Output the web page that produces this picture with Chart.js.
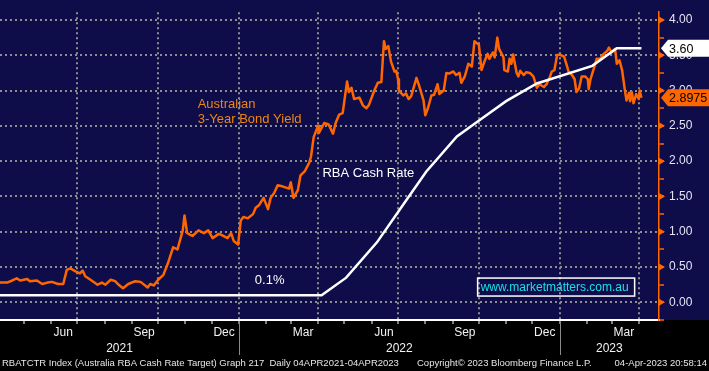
<!DOCTYPE html>
<html>
<head>
<meta charset="utf-8">
<script src="https://cdn.jsdelivr.net/npm/chart.js@4.4.0/dist/chart.umd.min.js"></script>
<style>
  html, body { margin: 0; padding: 0; background: #000; }
  canvas { display: block; }
</style>
</head>
<body>
<canvas id="bond-chart" width="709" height="371"></canvas>
<script>
// x values are days counted from the first date of the graph (04 Apr 2021)
const startDate = '2021-04-04';
const lastDay = 750;

// Australian 3-year bond yield
const bondDays = [0, 8, 14, 19, 23, 31, 34, 42, 48, 54, 59, 66, 72, 76, 80, 86, 91, 94, 97, 103,
  111, 116, 120, 126, 131, 135, 140, 146, 154, 160, 168, 171, 175, 180, 186, 191, 197, 202, 208, 210,
  213, 219, 226, 232, 237, 242, 249, 253, 259, 263, 266, 271, 274, 277, 282, 288, 291, 295, 300, 305,
  308, 312, 316, 322, 329, 331, 334, 339, 342, 347, 352, 354, 357, 362, 363, 369, 374, 379, 382, 386,
  390, 395, 397, 400, 403, 409, 413, 417, 420, 426, 430, 434, 437, 439, 442, 445, 449, 451, 453, 454,
  459, 462, 465, 468, 474, 477, 482, 484, 487, 491, 494, 498, 500, 505, 508, 511, 516, 519, 523, 525,
  529, 533, 537, 540, 545, 548, 551, 555, 557, 561, 563, 566, 568, 573, 574, 578, 580, 582, 584, 588,
  590, 592, 596, 599, 603, 607, 611, 614, 619, 622, 626, 628, 631, 634, 637, 642, 645, 647, 651, 654,
  656, 659, 662, 666, 669, 670, 672, 677, 679, 683, 687, 691, 693, 696, 700, 702, 705, 708, 711, 713,
  716, 717, 719, 721, 724, 727, 728, 730];
const bondYield = [0.28, 0.28, 0.31, 0.34, 0.31, 0.33, 0.30, 0.31, 0.26, 0.28, 0.29, 0.26, 0.26, 0.46, 0.48, 0.44, 0.41, 0.45, 0.37, 0.32,
  0.25, 0.28, 0.25, 0.32, 0.30, 0.25, 0.20, 0.26, 0.30, 0.29, 0.21, 0.26, 0.24, 0.32, 0.39, 0.55, 0.78, 0.75, 1.02, 1.23,
  0.98, 0.94, 1.02, 0.98, 1.02, 0.91, 0.97, 0.95, 0.91, 0.98, 0.87, 0.82, 1.16, 1.21, 1.19, 1.25, 1.34, 1.38, 1.48, 1.32,
  1.48, 1.55, 1.66, 1.64, 1.61, 1.70, 1.48, 1.59, 1.80, 1.86, 1.98, 2.07, 2.34, 2.50, 2.40, 2.54, 2.52, 2.39, 2.54, 2.66,
  2.68, 3.13, 2.98, 3.04, 2.88, 2.90, 2.79, 2.75, 2.80, 3.00, 3.11, 3.12, 3.70, 3.59, 3.63, 3.41, 3.27, 3.28, 3.16, 3.00,
  2.93, 2.96, 2.88, 2.92, 3.18, 3.07, 2.86, 2.65, 2.75, 2.93, 2.94, 3.09, 2.95, 3.00, 3.25, 3.24, 3.27, 3.22, 3.25, 3.11,
  3.20, 3.38, 3.34, 3.70, 3.65, 3.29, 3.40, 3.52, 3.45, 3.54, 3.47, 3.75, 3.59, 3.47, 3.29, 3.27, 3.45, 3.38, 3.51, 3.25,
  3.20, 3.28, 3.22, 3.26, 3.25, 3.20, 3.04, 3.09, 3.05, 3.09, 3.20, 3.27, 3.29, 3.50, 3.51, 3.48, 3.36, 3.27, 3.22, 3.16,
  2.98, 3.03, 3.20, 3.20, 3.16, 3.02, 3.16, 3.36, 3.45, 3.45, 3.52, 3.56, 3.61, 3.54, 3.59, 3.38, 3.43, 3.29, 3.02, 2.86,
  2.97, 2.85, 2.98, 2.82, 2.95, 2.88, 3.00, 2.8975];

// RBA cash rate target at each board meeting
const rbaDates = ['2021-04-04', '2021-04-06', '2021-05-04', '2021-06-01', '2021-07-06', '2021-08-03', '2021-09-07',
  '2021-10-05', '2021-11-02', '2021-12-07', '2022-02-01', '2022-03-01', '2022-04-05', '2022-05-03', '2022-06-07',
  '2022-07-05', '2022-08-02', '2022-09-06', '2022-10-04', '2022-11-01', '2022-12-06', '2023-02-07', '2023-03-07',
  '2023-04-04'];
const rbaRate = [0.10, 0.10, 0.10, 0.10, 0.10, 0.10, 0.10, 0.10, 0.10, 0.10, 0.10, 0.10, 0.10, 0.35, 0.85,
  1.35, 1.85, 2.35, 2.60, 2.85, 3.10, 3.35, 3.60, 3.60];

const yTicks = [-0.25, 0, 0.25, 0.5, 0.75, 1, 1.25, 1.5, 1.75, 2, 2.25, 2.5, 2.75, 3, 3.25, 3.5, 3.75, 4];
const monthLabels = ['Jun', 'Sep', 'Dec', 'Mar', 'Jun', 'Sep', 'Dec', 'Mar'];
const monthLabelDates = ['2021-06-15', '2021-09-15', '2021-12-15', '2022-03-15', '2022-06-15', '2022-09-15', '2022-12-15', '2023-03-15'];
const yearLabels = ['2021', '2022', '2023'];

const lastRateLabel = '3.60';
const lastYieldLabel = '2.8975';

const FONT = '"Liberation Sans", Arial, sans-serif';
const ORANGE = '#ff6600';
const GRID = '#8e8e8e';

function dayOf(str) {
  const [y, m, d] = str.split('-').map(Number);
  const [y0, m0, d0] = startDate.split('-').map(Number);
  return (Date.UTC(y, m - 1, d) - Date.UTC(y0, m0 - 1, d0)) / 86400000;
}

function isMajor(v) {
  return Math.abs(v * 2 - Math.round(v * 2)) < 1e-6;
}

// month starts for the small ticks under the axis, quarter starts get a grid line
const monthStarts = [];
for (let y = 2021; y <= 2023; y++) {
  for (let m = 1; m <= 12; m++) {
    const d = dayOf(`${y}-${String(m).padStart(2, '0')}-01`);
    if (d > 0 && d < lastDay) monthStarts.push({ value: d, quarter: (m - 1) % 3 === 0, yearStart: m === 1 });
  }
}

const bloombergLook = {
  id: 'bloombergLook',
  beforeDraw(chart) {
    const { ctx, chartArea } = chart;
    ctx.save();
    ctx.fillStyle = '#000';
    ctx.fillRect(0, 0, chart.width, chart.height);
    ctx.fillStyle = '#0f0d49';
    ctx.fillRect(0, 0, chart.width, chartArea.bottom);
    ctx.restore();
  },
  afterDraw(chart) {
    const { ctx, chartArea } = chart;
    const xs = chart.scales.x;
    const ys = chart.scales.y;
    const px = d => xs.getPixelForValue(d);
    const py = v => ys.getPixelForValue(v);
    ctx.save();

    // month and year labels
    ctx.fillStyle = '#f2f2f2';
    ctx.textAlign = 'center';
    ctx.textBaseline = 'alphabetic';
    ctx.font = '12px ' + FONT;
    monthLabels.forEach((lab, i) => ctx.fillText(lab, px(dayOf(monthLabelDates[i])), 336));
    yearLabels.forEach(yr => {
      const a = Math.max(xs.min, dayOf(`${yr}-01-01`));
      const b = Math.min(xs.max, dayOf(`${+yr + 1}-01-01`));
      ctx.fillText(yr, px((a + b) / 2), 352);
    });
    ctx.strokeStyle = '#8a8a8a';
    ctx.lineWidth = 1;
    monthStarts.filter(m => m.yearStart).forEach(m => {
      const x = Math.round(px(m.value)) + 0.5;
      ctx.beginPath();
      ctx.moveTo(x, chartArea.bottom + 2);
      ctx.lineTo(x, 355);
      ctx.stroke();
    });

    // footer
    ctx.font = '9.5px ' + FONT;
    ctx.fillStyle = '#e6e6e6';
    ctx.textAlign = 'left';
    ctx.fillText('RBATCTR Index (Australia RBA Cash Rate Target) Graph 217  Daily 04APR2021-04APR2023', 2, 366);
    ctx.fillText('Copyright\u00a9 2023 Bloomberg Finance L.P.', 417, 366);
    ctx.textAlign = 'right';
    ctx.fillText('04-Apr-2023 20:58:14', 707, 366);

    // annotations
    ctx.textAlign = 'left';
    ctx.font = '13px ' + FONT;
    ctx.fillStyle = '#ec8616';
    ctx.fillText('Australian', px(225), py(2.76));
    ctx.fillText('3-Year Bond Yield', px(225), py(2.54));
    ctx.fillStyle = '#ffffff';
    ctx.fillText('RBA Cash Rate', px(367), py(1.77));
    ctx.fillText('0.1%', px(290), py(0.26));

    // watermark
    ctx.font = '12px ' + FONT;
    ctx.fillStyle = '#19e0e8';
    const wx = px(547);
    const wy = py(0.16);
    ctx.fillText('www.marketmatters.com.au', wx, wy);
    ctx.strokeStyle = '#ffffff';
    ctx.lineWidth = 1.5;
    ctx.strokeRect(wx - 3, wy - 13, 157, 18);

    // triangles on the major y ticks
    const r = chartArea.right;
    ctx.fillStyle = ORANGE;
    yTicks.filter(v => isMajor(v) && v >= 0).forEach(v => {
      const y = py(v);
      ctx.beginPath();
      ctx.moveTo(r, y - 3.5);
      ctx.lineTo(r + 6, y);
      ctx.lineTo(r, y + 3.5);
      ctx.closePath();
      ctx.fill();
    });

    // last value tags
    const tag = (v, text, fill) => {
      const y = py(v);
      ctx.fillStyle = fill;
      ctx.beginPath();
      ctx.moveTo(r + 2, y);
      ctx.lineTo(r + 9, y - 8.5);
      ctx.lineTo(chart.width, y - 8.5);
      ctx.lineTo(chart.width, y + 8.5);
      ctx.lineTo(r + 9, y + 8.5);
      ctx.closePath();
      ctx.fill();
      ctx.fillStyle = '#000';
      ctx.font = '12.5px ' + FONT;
      ctx.textAlign = 'left';
      ctx.textBaseline = 'middle';
      ctx.fillText(text, r + 10, y + 1);
    };
    tag(rbaRate[rbaRate.length - 1], lastRateLabel, '#ffffff');
    tag(bondYield[bondYield.length - 1], lastYieldLabel, ORANGE);
    ctx.restore();
  }
};

const ctx = document.getElementById('bond-chart').getContext('2d');
const chart = new Chart(ctx, {
  type: 'line',
  data: {
    datasets: [{
      label: 'RBA Cash Rate',
      data: rbaDates.map((d, i) => ({ x: dayOf(d), y: rbaRate[i] })),
      borderColor: '#ffffff',
      borderWidth: 2.5,
      pointRadius: 0,
      tension: 0
    }, {
      label: 'Australian 3-Year Bond Yield',
      data: bondDays.map((d, i) => ({ x: d, y: bondYield[i] })),
      borderColor: ORANGE,
      borderWidth: 2.5,
      borderJoinStyle: 'round',
      pointRadius: 0,
      tension: 0
    }]
  },
  options: {
    responsive: false,
    animation: false,
    events: [],
    layout: { padding: 0 },
    plugins: { legend: { display: false }, tooltip: { enabled: false } },
    scales: {
      x: {
        type: 'linear',
        position: 'bottom',
        min: 0,
        max: lastDay,
        afterBuildTicks: s => { s.ticks = monthStarts.map(m => ({ ...m })); },
        afterFit: s => { s.height = 51; },
        ticks: { display: false },
        grid: {
          color: c => (c.tick && c.tick.quarter ? GRID : 'transparent'),
          lineWidth: 2,
          tickColor: '#ffffff',
          tickLength: 4,
          tickWidth: 1,
          tickBorderDash: []
        },
        border: { color: '#ffffff', width: 2, dash: [2, 3] }
      },
      y: {
        type: 'linear',
        position: 'right',
        min: -0.25,
        max: 4.11,
        afterBuildTicks: s => { s.ticks = yTicks.map(v => ({ value: v })); },
        afterFit: s => { s.width = 50; },
        ticks: {
          autoSkip: false,
          padding: 5,
          color: '#e4e4f4',
          font: { family: FONT, size: 12 },
          callback: v => (isMajor(v) && v >= 0 ? v.toFixed(2) : '')
        },
        grid: {
          color: c => (c.tick && isMajor(c.tick.value) ? GRID : 'transparent'),
          lineWidth: 2,
          tickColor: ORANGE,
          tickLength: 5,
          tickWidth: 1.5,
          tickBorderDash: []
        },
        border: { color: ORANGE, width: 1.5, dash: [2, 3] }
      }
    }
  },
  plugins: [bloombergLook]
});
</script>
</body>
</html>
